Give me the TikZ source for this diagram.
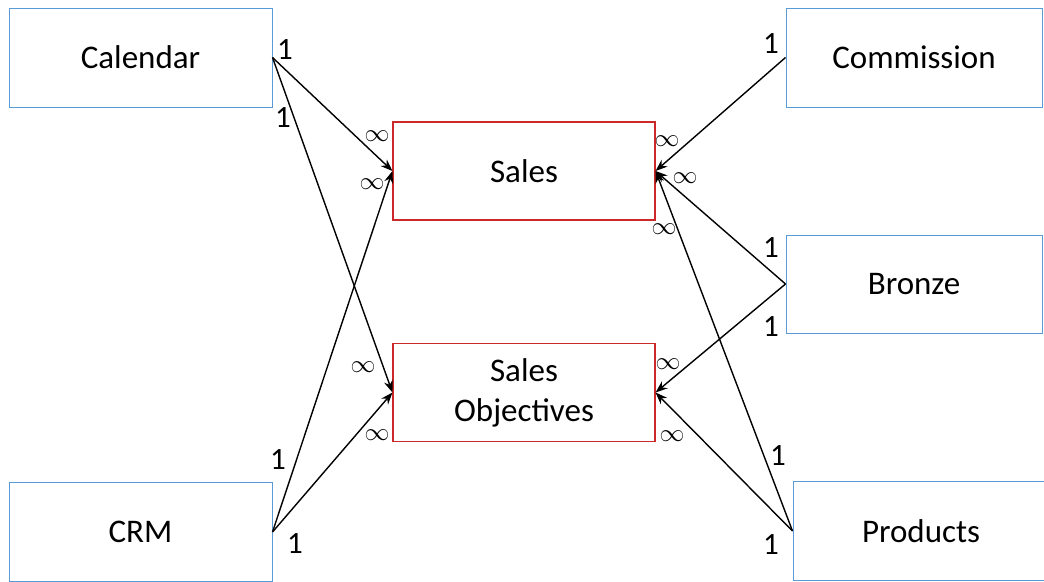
\documentclass[tikz,border=0pt]{standalone}
\usepackage{fontspec}
\setmainfont{Carlito}
\usetikzlibrary{arrows.meta}
\definecolor{dimblue}{RGB}{91,155,213}
\definecolor{factred}{RGB}{205,40,40}

\begin{document}
\begin{tikzpicture}[x=1pt, y=-1pt, >={Stealth[length=12pt,width=9pt]},
  dim/.style={draw=dimblue, line width=1pt, minimum width=263pt, minimum height=99pt, inner sep=0pt, font=\fontsize{33}{41}\selectfont},
  fact/.style={draw=factred, line width=1.1pt, minimum width=262pt, minimum height=98pt, inner sep=0pt, align=center, font=\fontsize{33}{40}\selectfont},
  card/.style={inner sep=0pt, font=\fontsize{31}{36}\selectfont},
  many/.style={inner sep=0pt, font=\fontsize{27}{30}\selectfont},
  rel/.style={->, line width=1.4pt}]
  \useasboundingbox (0,0) rectangle (1044,581);
  % left tables
  \node[dim] (cal) at (140.5,57.5) {Calendar};
  \node[dim] (crm) at (140.5,532) {CRM};
  % fact tables
  \node[fact] (sales) at (524,171) {Sales};
  \node[fact] (obj) at (524,392.5) {Sales\\Objectives};
  % right tables
  \node[dim, minimum width=256pt] (comm) at (914,57.5) {Commission};
  \node[dim, minimum width=256pt, minimum height=98pt] (bronze) at (914,284) {Bronze};
  \node[dim, minimum width=256pt] (prod) at (921,531) {Products};
  % relationships
  \draw[rel] (cal.east) -- (sales.west);
  \draw[rel] (cal.east) -- (obj.west);
  \draw[rel] (crm.east) -- (sales.west);
  \draw[rel] (crm.east) -- (obj.west);
  \draw[rel] (comm.west) -- (sales.east);
  \draw[rel] (bronze.west) -- (sales.east);
  \draw[rel] (bronze.west) -- (obj.east);
  \draw[rel] (prod.west) -- (sales.east);
  \draw[rel] (prod.west) -- (obj.east);
  % cardinalities
  \node[card] (cal1a) at (285,50) {1};
  \node[card] (cal1b) at (283,118) {1};
  \node[card] (crm1a) at (278,460) {1};
  \node[card] (crm1b) at (295,544) {1};
  \node[many] (salesLa) at (377,136) {$\infty$};
  \node[many] (salesLb) at (372,184) {$\infty$};
  \node[many] (objLa) at (363,367) {$\infty$};
  \node[many] (objLb) at (377,435) {$\infty$};
  \node[card] (comm1) at (771,44) {1};
  \node[card] (bronze1a) at (771,248) {1};
  \node[card] (bronze1b) at (771,327) {1};
  \node[card] (prod1a) at (778,456) {1};
  \node[card] (prod1b) at (771,545) {1};
  \node[many] (salesRa) at (667,141) {$\infty$};
  \node[many] (salesRb) at (685,178) {$\infty$};
  \node[many] (salesRc) at (664,229) {$\infty$};
  \node[many] (objRa) at (668,364) {$\infty$};
  \node[many] (objRb) at (672,436) {$\infty$};
\end{tikzpicture}
\end{document}
